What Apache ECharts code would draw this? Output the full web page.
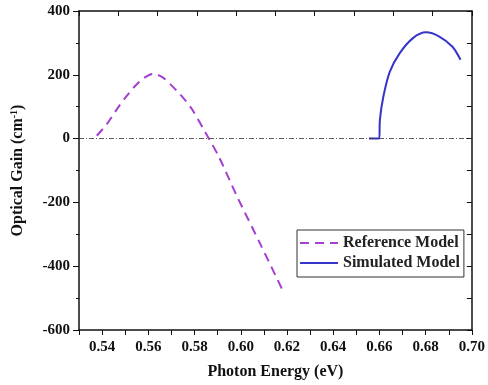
<!DOCTYPE html>
<html>
<head>
<meta charset="utf-8">
<script src="https://cdn.jsdelivr.net/npm/echarts@6/dist/echarts.min.js"></script>
<style>
  html, body { margin: 0; padding: 0; background: #fff; }
  #chart { width: 488px; height: 385px; }
</style>
</head>
<body>
<div id="chart"></div>
<script>
// Reference model (dashed purple)
const refEnergy = [0.5377, 0.5420, 0.5463, 0.5505, 0.5548, 0.5585, 0.5620, 0.5662, 0.5719, 0.5760, 0.5790, 0.5847, 0.5904, 0.5983, 0.6089, 0.6182];
const refGain   = [9, 45, 91, 132, 169, 192, 203, 192, 153, 120, 91, 19, -55, -180, -337, -477];

// Simulated model (solid blue)
const simEnergy = [0.6555, 0.6599, 0.6602, 0.6617, 0.6645, 0.6688, 0.6745, 0.6802, 0.6859, 0.6916, 0.6951];
const simGain   = [0, 0, 59, 132, 210, 268, 315, 333, 320, 288, 247];

const serif = '"Liberation Serif", "Times New Roman", serif';
const black = '#111';

const chart = echarts.init(document.getElementById('chart'));

chart.setOption({
  animation: false,
  grid: { left: 79, right: 12, top: 11, bottom: 54 },
  legend: {
    left: 297, top: 230,
    orient: 'vertical',
    itemWidth: 38, itemHeight: 10, itemGap: 4,
    padding: [5, 4, 6, 2],
    borderColor: '#333', borderWidth: 1,
    itemStyle: { opacity: 0 },
    textStyle: { fontFamily: serif, fontWeight: 'bold', fontSize: 16, color: '#222' },
    data: ['Reference Model', 'Simulated Model']
  },
  xAxis: [
    {
      type: 'value', position: 'bottom',
      min: 0.53, max: 0.70, interval: 0.01,
      name: 'Photon Energy (eV)', nameLocation: 'middle', nameGap: 34,
      nameTextStyle: { fontFamily: serif, fontWeight: 'bold', fontSize: 16, color: black },
      axisLine: { onZero: false, lineStyle: { color: black, width: 1.5 } },
      axisTick: { length: 5, lineStyle: { color: black } },
      axisLabel: {
        fontFamily: serif, fontWeight: 'bold', fontSize: 15, color: black, margin: 10,
        formatter: v => (Math.round(v * 100) % 2 === 0 ? v.toFixed(2) : '')
      },
      splitLine: { show: false }
    },
    {
      // top mirror axis with its own inward ticks
      type: 'value', position: 'top',
      min: 0, max: 10, interval: 1,
      axisLine: { onZero: false, lineStyle: { color: black, width: 1.5 } },
      axisTick: { show: true, inside: true, length: 5, lineStyle: { color: black, width: 1 } },
      axisLabel: { show: false },
      splitLine: { show: false }
    }
  ],
  yAxis: [
    {
      type: 'value', position: 'left',
      min: -600, max: 400, interval: 200,
      name: 'Optical Gain (cm{sup|-1})', nameLocation: 'middle', nameGap: 52,
      nameTextStyle: {
        fontFamily: serif, fontWeight: 'bold', fontSize: 16, color: black,
        rich: { sup: { fontFamily: serif, fontWeight: 'bold', fontSize: 10, verticalAlign: 'top', padding: [0, 0, 8, 0] } }
      },
      axisLine: { show: true, onZero: false, lineStyle: { color: black, width: 1.5 } },
      axisTick: { show: true, length: 6, lineStyle: { color: black } },
      minorTick: { show: true, splitNumber: 2, length: 3, lineStyle: { color: black } },
      axisLabel: { fontFamily: serif, fontWeight: 'bold', fontSize: 15, color: black, margin: 9 },
      splitLine: { show: false }
    },
    {
      // right mirror axis
      type: 'value', position: 'right',
      min: -600, max: 400, interval: 100,
      axisLine: { show: true, onZero: false, lineStyle: { color: black, width: 1.5 } },
      axisTick: { show: true, inside: true, length: 5, lineStyle: { color: black, width: 1 } },
      axisLabel: { show: false },
      splitLine: { show: false }
    }
  ],
  series: [
    {
      name: 'Reference Model', type: 'line',
      data: refEnergy.map((x, i) => [x, refGain[i]]),
      smooth: 0.3, symbol: 'none',
      lineStyle: { color: '#a43fd0', width: 2, type: [9, 6] },
      itemStyle: { color: '#a43fd0' },
      markLine: {
        silent: true, symbol: 'none', label: { show: false },
        lineStyle: { color: '#333', width: 0.8, type: [5, 2, 1, 2] },
        data: [{ yAxis: 0 }]
      },
      z: 3
    },
    {
      name: 'Simulated Model', type: 'line',
      data: simEnergy.map((x, i) => [x, simGain[i]]),
      smooth: 0.3, symbol: 'none',
      lineStyle: { color: '#3535c8', width: 2 },
      itemStyle: { color: '#3535c8' },
      z: 3
    }
  ]
});
</script>
</body>
</html>
